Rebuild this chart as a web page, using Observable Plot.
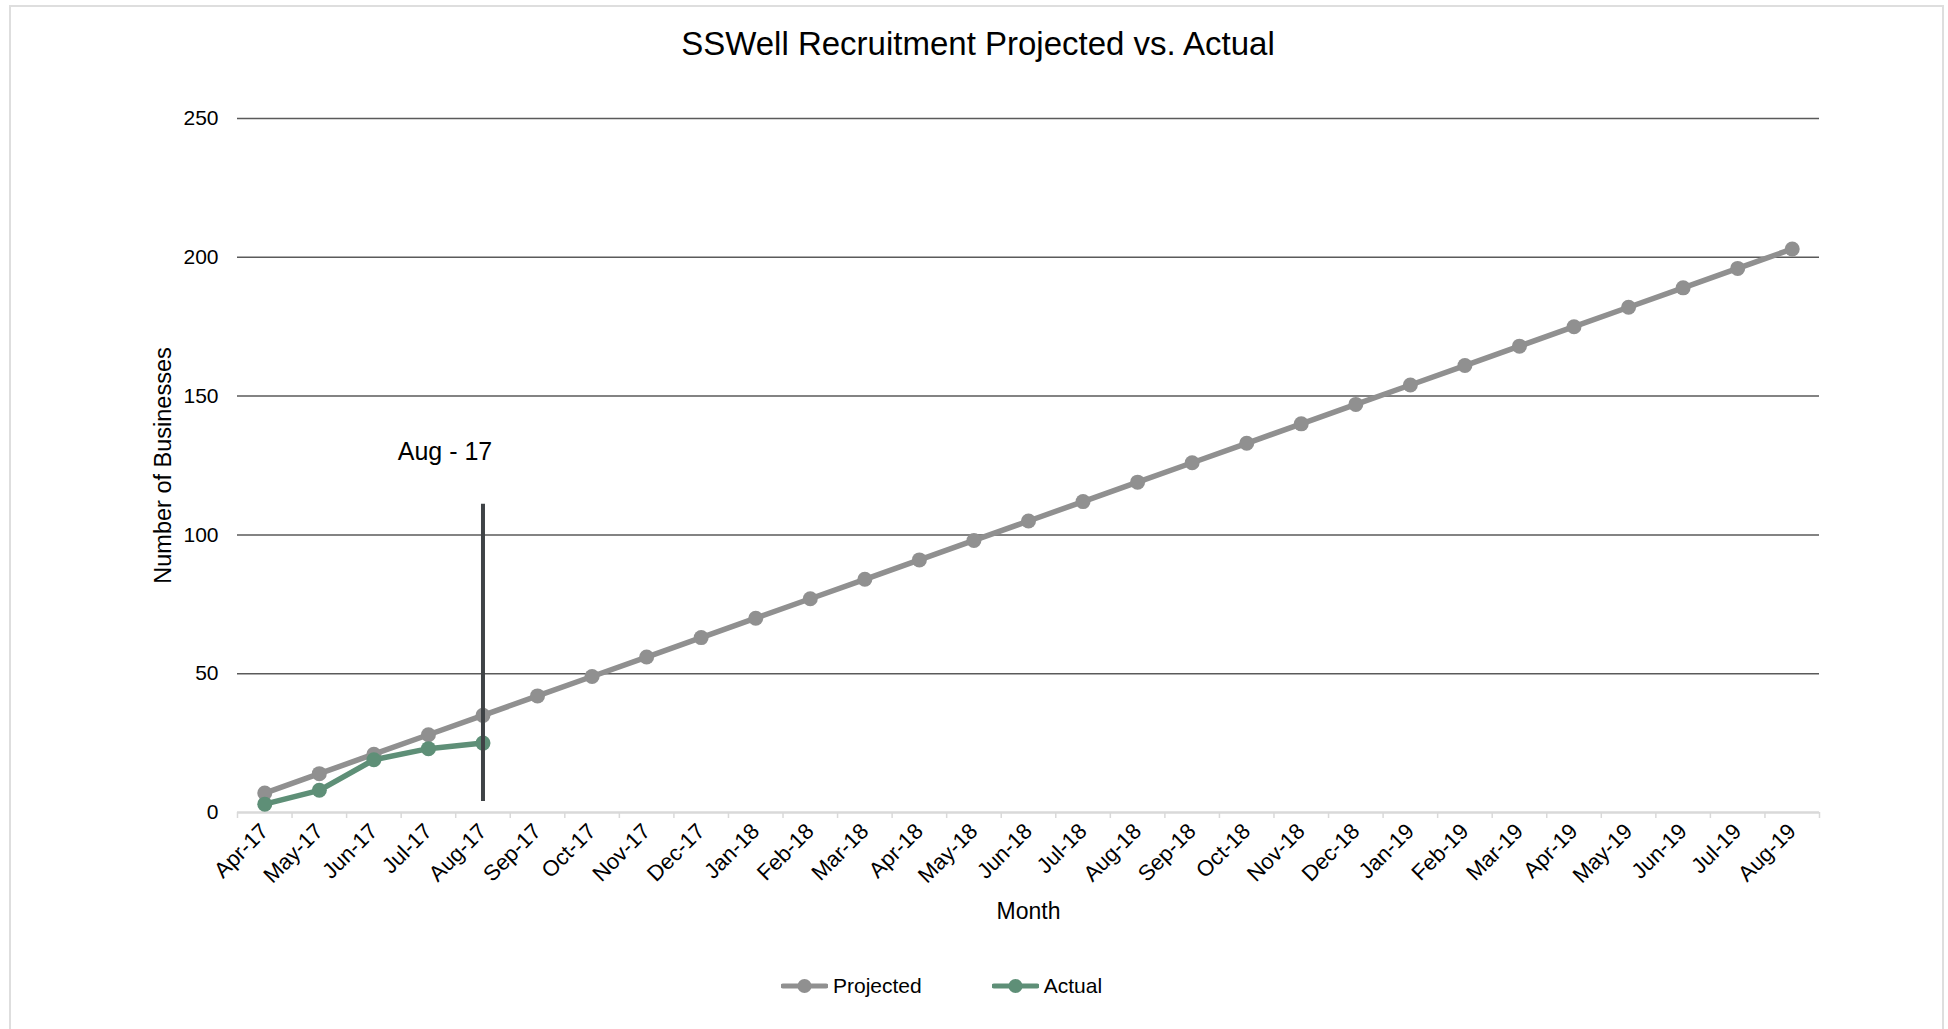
<!DOCTYPE html>
<html>
<head>
<meta charset="utf-8">
<script src="https://cdn.jsdelivr.net/npm/d3@7"></script>
<script src="https://cdn.jsdelivr.net/npm/@observablehq/plot@0.6"></script>
<style>
  body { margin: 0; background: #fff; font-family: "Liberation Sans", Arial, sans-serif; color: #000; }
  #frame { position: absolute; left: 9px; top: 5px; width: 1935px; height: 1040px; border: 2px solid #dedede; box-sizing: border-box; }
  #title { position: absolute; left: 10px; width: 1936px; top: 24px; font-size: 33px; line-height: 40px; text-align: center; }
  #chart { position: absolute; left: 0; top: 70px; }
  #legend { position: absolute; top: 974px; left: 781px; display: flex; align-items: center; font-size: 21px; }
  .item { display: flex; align-items: center; margin-right: 70px; }
  .item svg { margin-right: 5px; }
</style>
</head>
<body>
<div id="frame"></div>
<div id="title">SSWell Recruitment Projected vs. Actual</div>
<div id="chart"></div>
<div id="legend"></div>
<script>
const months = ["Apr-17","May-17","Jun-17","Jul-17","Aug-17","Sep-17","Oct-17","Nov-17","Dec-17","Jan-18","Feb-18","Mar-18","Apr-18","May-18","Jun-18","Jul-18","Aug-18","Sep-18","Oct-18","Nov-18","Dec-18","Jan-19","Feb-19","Mar-19","Apr-19","May-19","Jun-19","Jul-19","Aug-19"];
const projected = [7,14,21,28,35,42,49,56,63,70,77,84,91,98,105,112,119,126,133,140,147,154,161,168,175,182,189,196,203];
const actualMonths = ["Apr-17","May-17","Jun-17","Jul-17","Aug-17"];
const actual = [3,8,19,23,25];
const yTicks = [0,50,100,150,200,250];
const seriesNames = ["Projected","Actual"];
const markerMonth = "Aug-17";
const markerSpan = [4,111];
const markerLabel = "Aug - 17";
const markerLabelValue = 130;

const colors = {Projected: "#909090", Actual: "#5e8f77"};

const projData = months.map((m, i) => ({i, m, v: projected[i]}));
const actData = actualMonths.map((m, k) => ({i: months.indexOf(m), m, v: actual[k]}));
const markerIndex = months.indexOf(markerMonth);
const centers = months.map((_, i) => i);
const boundaries = d3.range(months.length + 1).map(i => i - 0.5);

const chart = Plot.plot({
  width: 1948,
  height: 880,
  marginLeft: 237,
  marginRight: 129,
  marginTop: 48,
  marginBottom: 138,
  style: {fontFamily: "'Liberation Sans', Arial, sans-serif", fontSize: "21px", color: "#000", background: "transparent", overflow: "visible"},
  x: {type: "linear", domain: [-0.5, months.length - 0.5]},
  y: {domain: [0, 250]},
  marks: [
    Plot.gridY(yTicks.filter(t => t > 0), {stroke: "#5a5a5a", strokeOpacity: 1, strokeWidth: 1.5}),
    Plot.axisY(yTicks, {tickSize: 0, tickPadding: 19, label: null, fontSize: 21, fill: "#000"}),
    Plot.ruleY([0], {stroke: "#d9d9d9", strokeWidth: 2.5}),
    Plot.axisX(boundaries, {tickSize: 6, stroke: "#d9d9d9", strokeWidth: 1.5, tickFormat: () => "", label: null}),
    Plot.axisX(centers, {tickSize: 0, tickPadding: 15, tickRotate: -45, tickFormat: i => months[i], label: null, fontSize: 22, fill: "#000"}),
    Plot.text(["Month"], {frameAnchor: "bottom", dy: 106, fontSize: 23, fill: "#000"}),
    Plot.text(["Number of Businesses"], {frameAnchor: "left", textAnchor: "middle", dx: -74, rotate: -90, fontSize: 23.5, fill: "#000"}),
    Plot.line(projData, {x: "i", y: "v", stroke: colors.Projected, strokeWidth: 5.5}),
    Plot.dot(projData, {x: "i", y: "v", r: 7.5, fill: colors.Projected}),
    Plot.line(actData, {x: "i", y: "v", stroke: colors.Actual, strokeWidth: 5.5}),
    Plot.dot(actData, {x: "i", y: "v", r: 7.5, fill: colors.Actual}),
    Plot.ruleX([markerIndex], {y1: markerSpan[0], y2: markerSpan[1], stroke: "#3f4346", strokeWidth: 4}),
    Plot.text([markerLabel], {x: markerIndex, y: markerLabelValue, dx: -38, fontSize: 25, fill: "#000"})
  ]
});
document.getElementById("chart").appendChild(chart);

const legend = document.getElementById("legend");
for (const name of seriesNames) {
  const item = document.createElement("div");
  item.className = "item";
  item.innerHTML = `<svg width="47" height="16"><line x1="2" x2="45" y1="8" y2="8" stroke="${colors[name]}" stroke-width="5" stroke-linecap="round"/><circle cx="23.5" cy="8" r="7" fill="${colors[name]}"/></svg><span>${name}</span>`;
  legend.appendChild(item);
}
</script>
</body>
</html>
